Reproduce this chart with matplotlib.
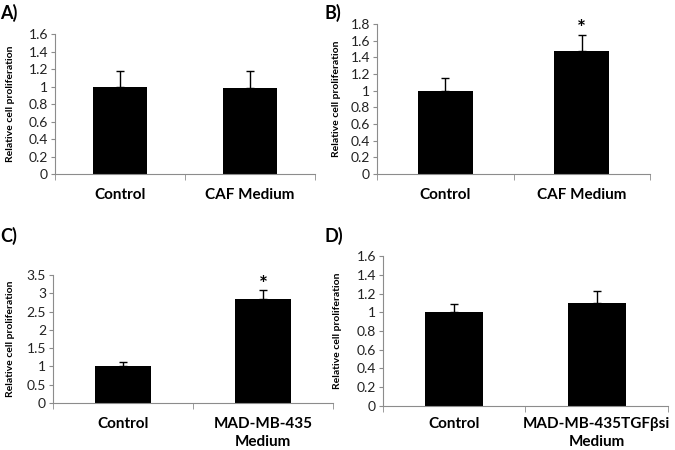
import matplotlib
matplotlib.use('Agg')
from matplotlib import pyplot as plt
import numpy as np

plt.rcParams['font.family'] = ['Lato', 'DejaVu Sans']

# panel data
labels_a = ['Control', 'CAF Medium']
values_a = [1.0, 0.98]
errors_a = [0.18, 0.20]

labels_b = ['Control', 'CAF Medium']
values_b = [1.0, 1.48]
errors_b = [0.15, 0.19]

labels_c = ['Control', 'MAD-MB-435\nMedium']
values_c = [1.0, 2.85]
errors_c = [0.13, 0.23]

labels_d = ['Control', 'MAD-MB-435TGFβsi\nMedium']
values_d = [1.0, 1.10]
errors_d = [0.09, 0.13]

ymax_a, ystep_a = 1.6, 0.2
ymax_b, ystep_b = 1.8, 0.2
ymax_c, ystep_c = 3.5, 0.5
ymax_d, ystep_d = 1.6, 0.2

stars_b = ['', '*']
stars_c = ['', '*']

GRAY = '#8c8c8c'


def fmt(v):
    s = ('%.1f' % v)
    return s[:-2] if s.endswith('.0') else s


def draw_panel(ax, labels, values, errors, ymax, ystep, letter, letter_xy,
               ylab_x, width=0.41, stars=None, pad=10):
    x = np.arange(len(labels))
    ax.bar(x, values, width=width, color='black', zorder=2)
    ax.errorbar(x, values, yerr=[np.zeros(len(values)), errors], fmt='none',
                ecolor='black', elinewidth=1, capsize=3, capthick=1, zorder=1)
    ax.set_xlim(-0.5, len(labels) - 0.5)
    ax.set_ylim(0, ymax)
    ticks = np.arange(0, ymax + ystep / 2, ystep)
    ax.set_yticks(ticks)
    ax.set_yticklabels([fmt(t) for t in ticks], fontsize=10, color='#222222')
    ax.set_xticks(x)
    ax.set_xticklabels(labels, fontsize=11, fontweight='bold',
                       linespacing=1.35)
    ax.set_xticks(np.arange(-0.5, len(labels), 1.0), minor=True)
    ax.tick_params(axis='x', which='major', length=0, pad=pad)
    ax.tick_params(axis='x', which='minor', length=4, color=GRAY,
                   direction='out')
    ax.tick_params(axis='y', length=3, color=GRAY, direction='out', pad=2)
    ax.spines['right'].set_color('none')
    ax.spines['top'].set_color('none')
    ax.spines['left'].set_color(GRAY)
    ax.spines['bottom'].set_color(GRAY)
    ax.set_ylabel('Relative cell proliferation', fontsize=7.5,
                  fontweight='bold')
    ax.yaxis.set_label_coords(ylab_x, 0.5)
    if stars:
        for xi, v, e, s in zip(x, values, errors, stars):
            if s:
                ax.annotate(s, (xi, v + e), xytext=(0, -3),
                            textcoords='offset points', ha='center',
                            va='bottom', fontsize=15, fontweight='bold')
    fig.text(letter_xy[0], letter_xy[1], letter, fontsize=13,
             fontweight='bold', va='center', ha='left')


fig = plt.figure(figsize=(6.75, 4.5), dpi=100)

ax_a = fig.add_axes([0.0815, 0.6133, 0.3852, 0.3111])
ax_b = fig.add_axes([0.5585, 0.6133, 0.4045, 0.3333])
ax_c = fig.add_axes([0.0785, 0.1044, 0.4148, 0.2844])
ax_d = fig.add_axes([0.5674, 0.0978, 0.4222, 0.3333])

draw_panel(ax_a, labels_a, values_a, errors_a, ymax_a, ystep_a, 'A)',
           (0.0, 1 - 13 / 450), -0.154)
draw_panel(ax_b, labels_b, values_b, errors_b, ymax_b, ystep_b, 'B)',
           (325 / 675, 1 - 13 / 450), -0.132, width=0.40, stars=stars_b)
draw_panel(ax_c, labels_c, values_c, errors_c, ymax_c, ystep_c, 'C)',
           (0.0, 1 - 236 / 450), -0.136, width=0.40, stars=stars_c)
draw_panel(ax_d, labels_d, values_d, errors_d, ymax_d, ystep_d, 'D)',
           (325 / 675, 1 - 236 / 450), -0.144, pad=8)

fig.savefig('out.png', dpi=100)
